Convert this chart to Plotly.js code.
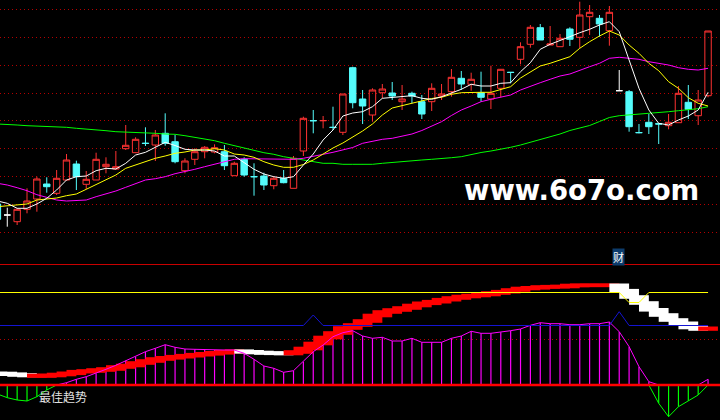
<!DOCTYPE html>
<html><head><meta charset="utf-8">
<script src="https://cdn.plot.ly/plotly-3.0.1.min.js"></script>
<style>html,body{margin:0;padding:0;background:#000;}#chart{width:720px;height:420px;}</style>
</head><body><div id="chart"></div>
<script>
// ---- price data (one entry per trading day) ----
const openPrice = [3.60,2.50,1.83,3.07,4.10,5.60,4.67,6.00,7.60,5.57, 6.00,7.33,7.10,9.13,8.73,9.69,9.50,10.67,9.83,6.93, 8.07,8.83,8.80,8.83,6.43,8.07,6.35,6.40,5.43,6.17, 5.17,8.90,11.95,11.92,11.28,10.77,17.23,14.10,12.50,14.73, 14.70,13.83,14.67,13.83,13.83,14.40,14.83,16.17,15.57,14.73, 14.10,15.17,16.78,18.07,19.57,21.23,19.50,19.33,21.10,20.27, 22.33,22.17,20.93,14.93,14.83,10.75,11.77,11.62,11.43,11.73, 13.77,12.43,14.43];
const highPrice = [3.65,3.23,3.20,5.17,6.33,6.27,7.00,8.60,7.93,6.90, 8.73,8.27,8.90,11.50,10.27,11.27,11.00,12.67,10.50,8.17, 9.17,9.40,9.57,9.50,7.83,8.27,7.67,6.73,6.40,7.00, 8.40,12.33,13.00,12.40,13.33,14.60,17.33,15.00,15.17,15.60, 15.80,15.50,14.83,14.50,15.67,15.60,17.10,16.90,16.73,16.83, 17.43,17.10,16.78,19.77,21.50,21.60,21.40,20.60,21.27,23.83, 23.50,22.50,23.40,17.00,15.00,11.60,12.60,11.62,12.60,15.40, 15.50,15.00,20.90];
const lowPrice = [2.00,1.33,1.50,2.67,2.83,4.73,4.50,6.00,5.00,5.07, 6.00,6.67,7.00,9.00,8.70,9.40,7.90,9.43,7.67,6.67, 7.50,8.17,8.67,7.00,6.43,6.33,4.43,5.00,5.07,5.67, 5.17,8.40,10.67,11.17,11.00,10.50,13.17,11.60,11.83,14.17, 14.00,13.00,13.67,12.10,12.90,14.00,14.33,15.00,14.93,13.83, 13.10,14.27,15.67,17.57,19.23,20.00,19.50,19.33,19.40,19.17, 20.50,20.33,19.43,14.93,10.83,10.67,10.60,9.60,11.07,11.73, 12.10,11.50,14.27];
const closePrice = [2.07,2.50,3.07,3.90,6.10,5.33,6.17,8.00,6.33,6.07, 8.07,7.57,7.33,9.47,10.07,9.65,10.50,9.67,7.83,7.90, 8.83,9.27,9.23,7.43,7.67,6.50,6.32,5.50,6.17,5.73, 8.17,12.17,11.92,11.95,11.25,14.60,13.73,13.40,15.00,15.10, 14.40,14.10,14.40,12.60,15.17,14.60,16.27,15.60,16.07,14.27, 14.67,17.07,16.75,19.33,21.27,20.00,19.60,20.17,20.07,22.50, 22.77,21.60,22.77,14.93,11.33,10.73,11.33,11.60,11.77,14.67, 13.07,14.00,20.90];
const ma5 = [3.90,3.67,3.17,3.17,3.60,4.17,5.00,6.00,6.33,6.40, 6.93,7.17,7.10,7.67,8.50,8.77,9.27,9.77,9.45,9.07, 9.00,9.00,8.90,8.40,8.40,7.73,7.07,6.60,6.33,6.17, 6.33,7.50,8.60,10.00,11.00,12.40,12.70,12.83,13.33,14.17, 14.27,14.33,14.43,14.17,14.07,14.33,14.67,15.07,15.57,15.40, 15.40,15.67,15.73,16.83,17.73,19.07,19.57,19.93,20.33,20.73, 21.07,21.50,21.83,20.83,18.00,15.17,13.00,11.67,11.50,12.00, 12.40,13.00,14.77];
const ma10 = [3.33,3.40,3.50,3.60,4.00,4.13,4.20,4.43,4.60,5.07, 5.57,6.00,6.50,7.17,7.50,7.83,8.17,8.40,8.67,8.80, 9.00,9.00,9.13,9.00,8.60,8.50,8.27,7.83,7.50,7.27, 7.27,7.55,8.00,8.60,9.20,9.70,10.30,10.90,11.60,12.50, 13.20,13.45,13.65,13.90,14.15,14.27,14.57,14.73,14.77,14.77, 14.77,15.07,15.33,16.20,16.83,17.40,17.67,18.00,18.33,19.17, 19.83,20.40,20.90,20.50,19.50,18.67,17.67,16.93,15.83,15.17, 14.23,13.67,13.40];
const ma20 = [5.67,5.50,5.23,4.93,4.53,4.23,4.00,3.90,3.93,4.00, 4.33,4.60,4.90,5.27,5.67,6.00,6.13,6.33,6.63,6.83, 7.07,7.33,7.57,7.83,8.07,8.13,8.13,8.13,8.10,8.07, 8.07,8.17,8.40,8.57,8.77,9.00,9.25,9.67,9.90,10.07, 10.17,10.40,10.60,10.95,11.40,11.83,12.45,13.00,13.40,13.83, 14.07,14.27,14.50,15.00,15.40,15.73,16.07,16.40,16.60,16.93, 17.33,17.67,18.17,18.27,18.17,18.07,17.83,17.67,17.50,17.23, 17.07,17.00,17.17];
const ma60 = [11.60,11.57,11.50,11.43,11.40,11.33,11.33,11.27,11.17,11.10, 11.07,10.93,10.83,10.80,10.77,10.73,10.67,10.60,10.57,10.43, 10.27,10.10,9.93,9.67,9.43,9.23,9.00,8.73,8.57,8.33, 8.17,8.00,7.83,7.67,7.67,7.57,7.57,7.57,7.57,7.67, 7.77,7.83,7.93,8.00,8.07,8.13,8.23,8.33,8.55,8.75, 8.90,9.07,9.27,9.50,9.77,10.00,10.27,10.60,10.95,11.20, 11.45,11.85,12.25,12.43,12.50,12.55,12.63,12.73,12.83,12.93, 13.00,13.13,13.33];

// ---- indicator panel "最佳趋势" ----
const osc = [-0.90,-1.27,-1.50,-1.60,-1.17,-0.50,0.00,0.23,0.57,0.83, 1.17,1.57,1.97,2.43,2.83,3.33,3.67,4.03,3.77,3.60, 3.57,3.53,3.50,3.50,3.50,3.17,2.57,1.90,1.67,1.27, 1.43,2.33,3.33,4.00,4.83,5.23,5.43,4.90,4.67,4.77, 4.40,4.40,4.67,4.27,4.27,4.27,4.67,4.90,5.37,5.17, 5.17,5.27,5.43,5.60,5.97,6.23,6.13,6.13,6.03,6.03, 6.13,6.13,6.30,5.33,3.83,1.83,0.33,-1.83,-3.17,-2.17, -1.57,-1.00,0.57];
const ribbon = [1.15,1.08,1.00,0.95,0.90,0.95,1.05,1.17,1.33,1.40, 1.50,1.60,1.80,1.95,2.20,2.40,2.60,2.72,2.83,2.93, 3.03,3.12,3.22,3.33,3.38,3.32,3.25,3.20,3.17,3.15, 3.30,3.65,4.15,4.75,5.20,5.70,6.00,6.40,6.95,7.30, 7.50,7.70,7.95,8.17,8.33,8.53,8.70,8.85,8.95,9.05, 9.20,9.33,9.50,9.65,9.72,9.80,9.83,9.85,9.95,9.97, 9.97,9.97,9.97,9.43,8.80,8.20,7.52,7.00,6.50,6.17, 5.75,5.60,5.67];
const ribbonUp = [0,0,0,0,1,1,1,1,1,1, 1,1,1,1,1,1,1,1,1,1, 1,1,1,1,1,0,0,0,0,0, 1,1,1,1,1,1,1,1,1,1, 1,1,1,1,1,1,1,1,1,1, 1,1,1,1,1,1,1,1,1,1, 1,1,1,0,0,0,0,0,0,0, 0,0,1];
const blueLine = [5.95,5.95,5.95,5.95,5.95,5.95,5.95,5.95,5.95,5.95, 5.95,5.95,5.95,5.95,5.95,5.95,5.95,5.95,5.95,5.95, 5.95,5.95,5.95,5.95,5.95,5.95,5.95,5.95,5.95,5.95, 5.95,5.95,7.0,5.95,5.95,5.95,5.95,5.95,5.95,5.95, 5.95,5.95,5.95,5.95,5.95,5.95,5.95,5.95,5.95,5.95, 5.95,5.95,5.95,5.95,5.95,5.95,5.95,5.95,5.95,5.95, 5.95,5.95,5.95,7.33,5.95,5.95,5.95,5.95,5.95,5.95, 5.95,5.95,5.95];
const yellowLine = [9.25,9.25,9.25,9.25,9.25,9.25,9.25,9.25,9.25,9.25, 9.25,9.25,9.25,9.25,9.25,9.25,9.25,9.25,9.25,9.25, 9.25,9.25,9.25,9.25,9.25,9.25,9.25,9.25,9.25,9.25, 9.25,9.25,9.25,9.25,9.25,9.25,9.25,9.25,9.25,9.25, 9.25,9.25,9.25,9.25,9.25,9.25,9.25,9.25,9.25,9.25, 9.25,9.25,9.25,9.25,9.25,9.25,9.25,9.25,9.25,9.25, 9.25,9.25,9.25,9.25,8.25,8.25,9.25,9.25,9.25,9.25, 9.25,9.25,9.25];
const topLevel = 12.05;
const zeroLevel = 0;
const dottedLevels = [4.55];
const panelTitle = '最佳趋势';
const markLabel = '财';
const watermark = 'www.6o7o.com';

const n = closePrice.length;
const day = Array.from({length: n}, (_, i) => i);

// ---- traces ----
function pick(cond) { const r = []; for (let i = 0; i < n; i++) if (cond(i)) r.push(i); return r; }
function candles(idx, color, fill) {
  return {
    type: 'candlestick', xaxis: 'x', yaxis: 'y', hoverinfo: 'skip', whiskerwidth: 0,
    x: idx.map(i => day[i]), open: idx.map(i => openPrice[i]), high: idx.map(i => highPrice[i]),
    low: idx.map(i => lowPrice[i]), close: idx.map(i => closePrice[i]),
    increasing: {line: {color: color, width: 1}, fillcolor: fill},
    decreasing: {line: {color: color, width: 1}, fillcolor: fill}
  };
}
function maLine(vals, color) {
  return {type: 'scatter', mode: 'lines', x: day, y: vals, xaxis: 'x', yaxis: 'y',
    line: {color: color, width: 1}, hoverinfo: 'skip'};
}
const RED = '#ff3232', CYAN = '#54fcfc';
const traces = [
  candles(pick(i => closePrice[i] > openPrice[i]), RED, 'rgba(0,0,0,0)'),
  candles(pick(i => closePrice[i] < openPrice[i]), CYAN, CYAN),
  candles(pick(i => closePrice[i] === openPrice[i]), '#ffffff', '#ffffff'),
  maLine(ma60, '#00ff00'),
  maLine(ma20, '#ff00ff'),
  maLine(ma10, '#ffff00'),
  maLine(ma5, '#ffffff')
];

// oscillator bars (magenta positive, green negative)
const posIdx = pick(i => osc[i] > 0), negIdx = pick(i => osc[i] < 0);
traces.push({type: 'bar', xaxis: 'x2', yaxis: 'y2', x: posIdx.map(i => day[i]), y: posIdx.map(i => osc[i]),
  base: 0, width: 0.12, marker: {color: '#ff00ff', line: {width: 0}}, hoverinfo: 'skip'});
traces.push({type: 'bar', xaxis: 'x2', yaxis: 'y2', x: negIdx.map(i => day[i]), y: negIdx.map(i => osc[i]),
  base: 0, width: 0.12, marker: {color: '#00ff00', line: {width: 0}}, hoverinfo: 'skip'});

// trend ribbon: stepped blocks between consecutive levels
const half = 0.18;
const rBase = [], rHeight = [], rColor = [];
for (let i = 0; i < n; i++) {
  const prev = i > 0 ? ribbon[i - 1] : ribbon[i];
  const lo = Math.min(prev, ribbon[i]) - half, hi = Math.max(prev, ribbon[i]) + half;
  rBase.push(lo); rHeight.push(hi - lo); rColor.push(ribbonUp[i] ? '#ff0000' : '#ffffff');
}
traces.push({type: 'bar', xaxis: 'x2', yaxis: 'y2', x: day, y: rHeight, base: rBase, width: 2,
  marker: {color: rColor, line: {width: 0}}, hoverinfo: 'skip'});

// oscillator lines
traces.push({type: 'scatter', mode: 'lines', xaxis: 'x2', yaxis: 'y2', x: day, y: osc.map(v => Math.max(v, 0)),
  line: {color: '#ff00ff', width: 1}, hoverinfo: 'skip'});
traces.push({type: 'scatter', mode: 'lines', xaxis: 'x2', yaxis: 'y2', x: day, y: osc.map(v => Math.min(v, 0)),
  line: {color: '#00ff00', width: 1}, hoverinfo: 'skip'});
traces.push({type: 'scatter', mode: 'lines', xaxis: 'x2', yaxis: 'y2', x: day, y: blueLine,
  line: {color: '#1414d2', width: 1}, hoverinfo: 'skip'});
traces.push({type: 'scatter', mode: 'lines', xaxis: 'x2', yaxis: 'y2', x: day, y: yellowLine,
  line: {color: '#ffff00', width: 1}, hoverinfo: 'skip'});

const GRID = '#b40000';
const xr = [0.263, 73.21];
const layout = {
  width: 720, height: 420, margin: {l: 0, r: 0, t: 0, b: 0},
  paper_bgcolor: '#000000', plot_bgcolor: '#000000', showlegend: false,
  barmode: 'overlay', boxgap: 0.35, boxgroupgap: 0,
  xaxis: {domain: [0, 1], range: xr, visible: false, anchor: 'y', rangeslider: {visible: false}},
  xaxis2: {domain: [0, 1], range: xr, visible: false, anchor: 'y2', matches: 'x'},
  yaxis: {domain: [180 / 420, 1], range: [0, 24], tickmode: 'linear', tick0: 0.8, dtick: 2.78,
    showticklabels: false, ticks: '', showgrid: true, gridcolor: GRID, griddash: '1px,3px', gridwidth: 1,
    zeroline: false, showline: false},
  yaxis2: {domain: [0, 170 / 420], range: [-3.5, 13.5], tickmode: 'array', tickvals: dottedLevels,
    showticklabels: false, ticks: '', showgrid: true, gridcolor: GRID, griddash: '1px,3px', gridwidth: 1,
    zeroline: false, showline: false},
  shapes: [
    {type: 'line', xref: 'paper', x0: 0, x1: 1, yref: 'y2', y0: topLevel, y1: topLevel,
      line: {color: '#c80000', width: 1}, layer: 'above'},
    {type: 'line', xref: 'paper', x0: 0, x1: 1, yref: 'y2', y0: zeroLevel, y1: zeroLevel,
      line: {color: '#ff0000', width: 2.5}, layer: 'above'}
  ],
  annotations: [
    {text: watermark, xref: 'paper', yref: 'paper', x: 581 / 720, y: 1 - 190 / 420,
      xanchor: 'center', yanchor: 'middle', showarrow: false,
      font: {family: 'DejaVu Sans', size: 27.5, color: '#ffffff', weight: 'bold'}},
    {text: panelTitle, xref: 'paper', yref: 'paper', x: 37 / 720, y: 1 - 396 / 420,
      xanchor: 'left', yanchor: 'middle', showarrow: false,
      font: {family: 'Noto Sans CJK SC', size: 12, color: '#e0e0e0'}},
    {text: markLabel, xref: 'paper', yref: 'paper', x: 618.5 / 720, y: 1 - 256.5 / 420,
      xanchor: 'center', yanchor: 'middle', showarrow: false, bgcolor: '#0d3c6c', borderpad: 0,
      font: {family: 'Noto Sans CJK SC', size: 11, color: '#ffffff'}}
  ]
};
Plotly.newPlot('chart', traces, layout, {staticPlot: true, displayModeBar: false});
</script>
</body></html>
